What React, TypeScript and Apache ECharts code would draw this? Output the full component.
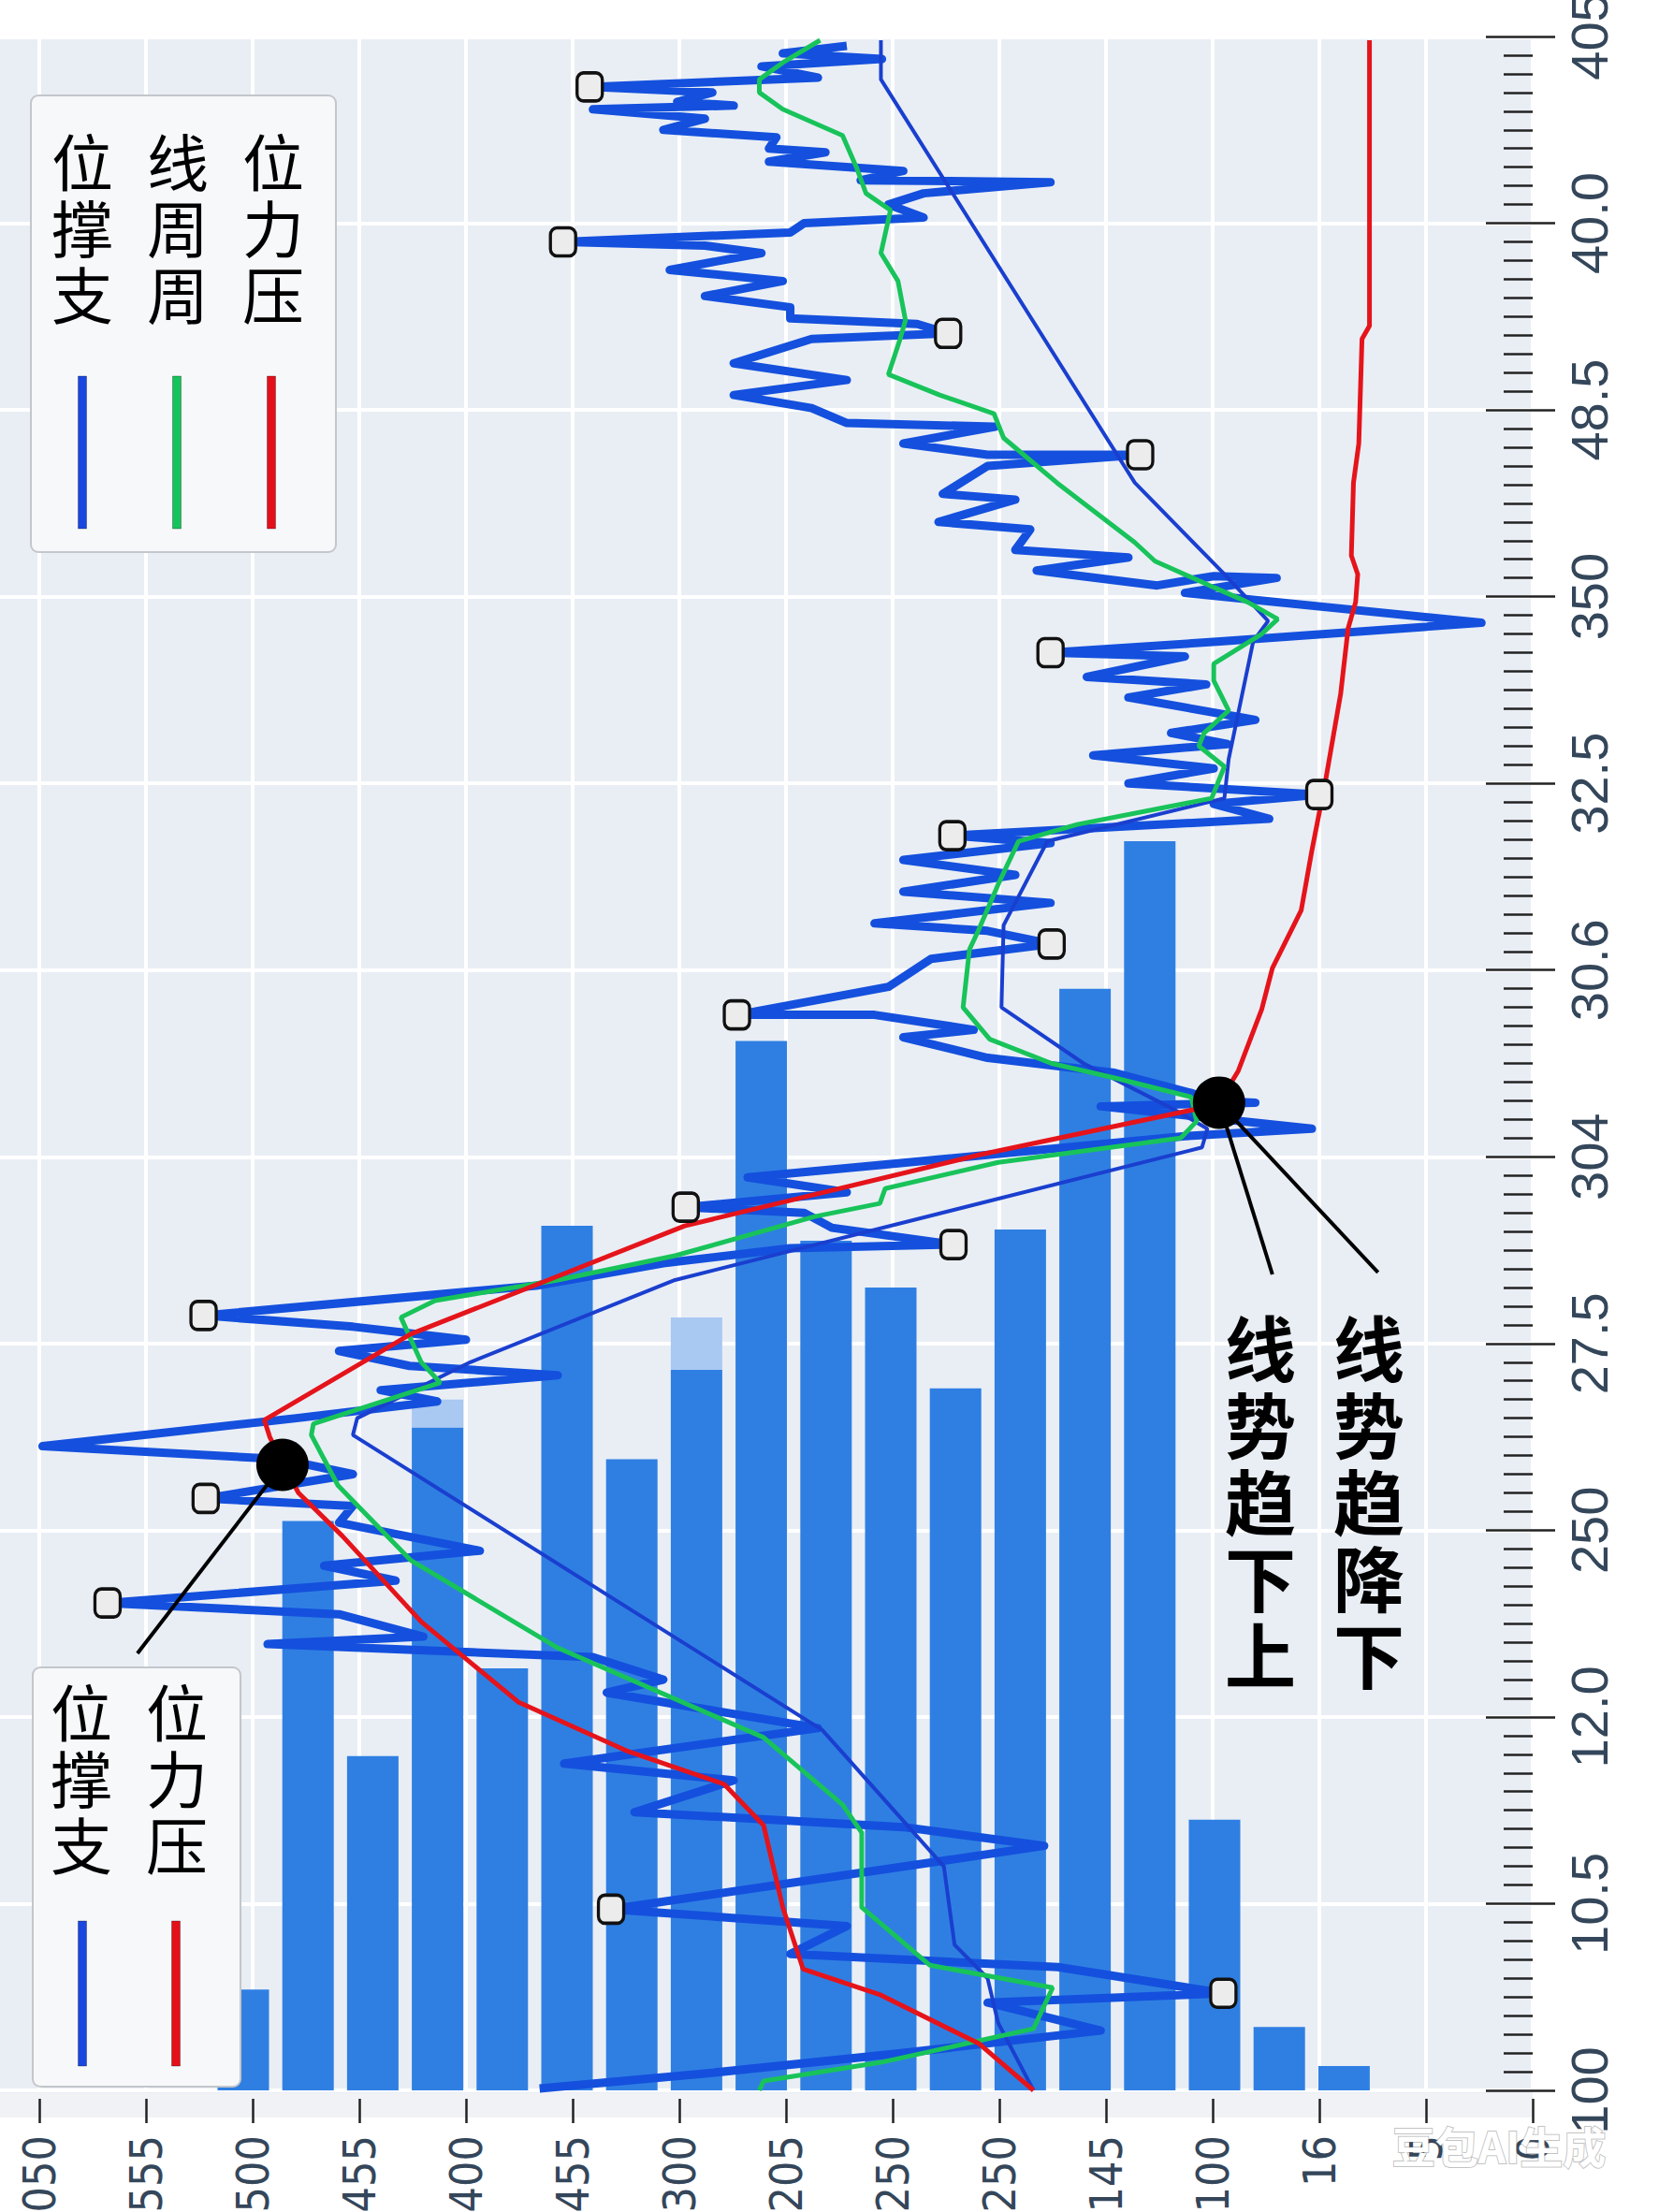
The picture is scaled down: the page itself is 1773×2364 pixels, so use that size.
import React, { useEffect, useRef } from "react";
import * as echarts from "echarts";

// ---- axis tick labels ----
const xTickLabels = ["050", "555", "500", "455", "400", "455", "300", "205", "250", "250", "145", "100", "16", "5", "0"];
const yTickLabels = ["100", "10.5", "12.0", "250", "27.5", "304", "30.6", "32.5", "350", "48.5", "40.0", "405"];

// ---- volume-like bars ----
const barCategories = ["b1", "b2", "b3", "b4", "b5", "b6", "b7", "b8", "b9", "b10", "b11", "b12", "b13", "b14", "b15", "b16", "b17", "b18"];
const barValues = [0.54, 3.05, 1.79, 3.55, 2.26, 4.63, 3.38, 3.86, 5.62, 4.55, 4.3, 3.76, 4.61, 5.9, 6.69, 1.45, 0.34, 0.13];
const barHighlights = [0, 0, 0, 0.15, 0, 0, 0, 0.28, 0, 0, 0, 0, 0, 0, 0, 0, 0, 0];

// ---- price (thick blue jagged line) ----
const priceLine = [
  [7.57, 10.95], [6.97, 10.91], [7.9, 10.88], [6.77, 10.84], [7.3, 10.78], [5.16, 10.73], [6.31, 10.7], [5.98, 10.65],
  [6.51, 10.63], [5.19, 10.61], [6.24, 10.56], [5.85, 10.5], [6.91, 10.46], [6.84, 10.4], [7.37, 10.38], [6.84, 10.33],
  [8.1, 10.28], [7.7, 10.23], [9.48, 10.22], [8.29, 10.16], [7.96, 10.1], [8.29, 10.03], [7.17, 10.0], [7.04, 9.95],
  [4.91, 9.9], [6.24, 9.88], [6.77, 9.84], [5.91, 9.75], [6.97, 9.69], [6.24, 9.61], [7.04, 9.55], [7.04, 9.49],
  [8.23, 9.46], [8.52, 9.41], [7.24, 9.38], [6.51, 9.25], [7.57, 9.16], [6.51, 9.08], [7.24, 9.01], [7.57, 8.93],
  [8.96, 8.91], [8.1, 8.82], [8.89, 8.76], [10.32, 8.76], [8.89, 8.7], [8.47, 8.55], [9.15, 8.52], [8.43, 8.4],
  [9.29, 8.36], [9.15, 8.25], [10.21, 8.21], [9.35, 8.14], [10.48, 8.06], [11.01, 8.11], [11.6, 8.1], [10.74, 8.02],
  [13.52, 7.86], [11.07, 7.76], [9.48, 7.7], [10.74, 7.68], [9.82, 7.57], [10.94, 7.53], [10.21, 7.46], [11.4, 7.34],
  [10.61, 7.27], [11.14, 7.21], [9.88, 7.15], [11.01, 7.08], [10.21, 7.0], [12.0, 6.94], [11.01, 6.89], [11.53, 6.81],
  [8.56, 6.72], [9.48, 6.68], [8.1, 6.59], [9.15, 6.51], [8.1, 6.42], [9.48, 6.36], [7.83, 6.25], [8.89, 6.21],
  [9.49, 6.14], [8.36, 6.06], [7.96, 5.91], [6.54, 5.76], [7.83, 5.76], [8.76, 5.68], [8.1, 5.64], [8.89, 5.53],
  [10.08, 5.45], [10.81, 5.34], [11.01, 5.3], [11.4, 5.29], [9.95, 5.27], [11.93, 5.15], [10.74, 5.11], [7.96, 4.96],
  [6.64, 4.89], [7.57, 4.81], [6.06, 4.73], [7.17, 4.7], [7.43, 4.62], [8.57, 4.53], [7.04, 4.51], [5.85, 4.43],
  [4.66, 4.31], [1.54, 4.15], [2.94, 4.09], [4.0, 4.02], [2.81, 3.96], [3.47, 3.88], [4.86, 3.83], [3.2, 3.75],
  [3.73, 3.69], [2.41, 3.6], [0.03, 3.45], [2.28, 3.38], [2.94, 3.3], [1.56, 3.17], [2.94, 3.13], [2.81, 3.04],
  [4.13, 2.89], [2.67, 2.81], [3.34, 2.73], [0.64, 2.61], [2.81, 2.55], [3.6, 2.43], [2.14, 2.39], [5.19, 2.32],
  [5.85, 2.2], [5.32, 2.13], [7.3, 1.94], [4.92, 1.75], [6.51, 1.66], [5.58, 1.49], [8.1, 1.41], [9.42, 1.31],
  [8.36, 1.22], [5.36, 0.97], [7.57, 0.88], [7.04, 0.73], [9.55, 0.66], [11.1, 0.52], [8.89, 0.47], [9.95, 0.32],
  [8.1, 0.2], [6.24, 0.09], [4.69, 0.01],
];

// ---- support (thin blue) ----
const supportLine = [
  [7.89, 10.98], [7.89, 10.77], [10.27, 8.61], [11.11, 8.12], [11.52, 7.87], [11.38, 7.76], [11.15, 7.13], [11.11, 6.92],
  [9.45, 6.69], [9.04, 6.24], [9.02, 5.8], [9.79, 5.5], [10.65, 5.25], [10.95, 5.15], [10.9, 5.05], [5.96, 4.34],
  [4.04, 3.9], [2.98, 3.6], [2.94, 3.51], [7.34, 1.93], [8.48, 1.2], [8.58, 0.78], [8.89, 0.6], [8.99, 0.36], [9.32, 0.0],
];

// ---- weekly line (green) ----
const weeklyLine = [
  [7.32, 10.98], [6.97, 10.86], [6.75, 10.77], [6.75, 10.7], [6.97, 10.61], [7.53, 10.47], [7.66, 10.3], [7.75, 10.16],
  [7.98, 10.07], [7.89, 9.84], [8.05, 9.69], [8.12, 9.48], [8.07, 9.38], [7.96, 9.19], [8.44, 9.08], [8.95, 8.98],
  [9.04, 8.85], [9.54, 8.61], [10.27, 8.29], [10.46, 8.19], [11.01, 8.05], [11.33, 7.97], [11.61, 7.88], [11.46, 7.8],
  [11.01, 7.64], [11.01, 7.55], [11.15, 7.39], [10.92, 7.27], [10.87, 7.2], [11.11, 7.09], [10.99, 6.92], [9.73, 6.78],
  [9.18, 6.69], [8.99, 6.46], [8.81, 6.22], [8.72, 6.11], [8.66, 5.8], [8.91, 5.63], [9.49, 5.5], [10.1, 5.42],
  [10.8, 5.32], [10.85, 5.19], [10.7, 5.1], [8.99, 4.97], [7.93, 4.83], [7.88, 4.75], [7.27, 4.68], [5.96, 4.47],
  [4.86, 4.34], [3.71, 4.23], [3.39, 4.14], [3.58, 3.9], [3.76, 3.79], [2.57, 3.57], [2.55, 3.51], [2.8, 3.24],
  [3.48, 2.84], [4.86, 2.37], [6.79, 1.89], [7.53, 1.53], [7.71, 1.38], [7.71, 0.98], [8.35, 0.67], [9.5, 0.55],
  [9.32, 0.33], [7.89, 0.15], [6.79, 0.05], [6.75, 0.0],
];

// ---- resistance (red) ----
const resistanceLine = [
  [12.47, 10.98], [12.47, 9.45], [12.4, 9.38], [12.37, 8.82], [12.32, 8.61], [12.3, 8.22], [12.36, 8.12], [12.34, 7.97],
  [12.27, 7.83], [12.2, 7.48], [12.06, 7.02], [11.93, 6.64], [11.83, 6.32], [11.56, 6.01], [11.46, 5.79], [11.24, 5.46],
  [11.05, 5.28], [8.81, 5.01], [6.05, 4.63], [4.77, 4.34], [3.48, 4.05], [2.11, 3.59], [2.16, 3.5], [2.29, 3.35],
  [2.43, 3.2], [2.84, 2.97], [3.58, 2.51], [4.49, 2.08], [5.5, 1.82], [6.42, 1.64], [6.79, 1.42], [6.97, 0.98],
  [7.16, 0.65], [7.89, 0.51], [8.81, 0.25], [9.32, 0.0],
];

// ---- markers ----
const keyPoints = [
  [5.16, 10.73], [4.91, 9.9], [8.52, 9.41], [10.32, 8.76], [9.48, 7.7], [12.0, 6.94], [8.56, 6.72], [9.49, 6.14],
  [6.54, 5.76], [6.06, 4.73], [8.57, 4.53], [1.54, 4.15], [1.56, 3.17], [0.64, 2.61], [5.36, 0.97], [11.1, 0.52],
];
const turningPoints = [[2.28, 3.35], [11.06, 5.29]];
const leaderLines = [
  [[2.28, 3.35], [0.92, 2.34]],
  [[11.06, 5.29], [11.56, 4.37]],
  [[11.06, 5.29], [12.55, 4.38]],
];

// ---- texts ----
const legendTopLabels = ["位撑支", "线周周", "位力压"];
const legendTopColors = ["#1a47e0", "#14c45a", "#e3101a"];
const legendBottomLabels = ["位撑支", "位力压"];
const legendBottomColors = ["#1a47e0", "#e3101a"];
const annotationLabels = ["线势趋下上", "线势趋降下"];
const watermark = "豆包AI生成";

const CJK = '"Noto Sans CJK SC", "Noto Sans", sans-serif';

// one text element per character, stacked vertically
const vText = (label: string, x: number, y: number, size: number, pitch: number, weight: string) =>
  label.split("").map((ch, i) => ({
    type: "text",
    z: 100,
    x,
    y: y + i * pitch,
    style: {
      text: ch,
      fontSize: size,
      fontFamily: CJK,
      fontWeight: weight,
      fill: "#000",
      align: "center",
      verticalAlign: "top",
    },
  }));

const swatch = (cx: number, y: number, h: number, color: string) => ({
  type: "rect",
  z: 100,
  shape: { x: cx - 4.5, y, width: 9, height: h },
  style: { fill: color, stroke: "rgba(0,0,0,0.3)", lineWidth: 1 },
});

export default function App() {
  const ref = useRef<HTMLDivElement>(null);

  useEffect(() => {
    document.body.style.margin = "0";
    const chart = echarts.init(ref.current!, null, { renderer: "svg" });

    const gridTop = 39;
    const gridBottom = 130;
    const gridBase = { top: gridTop, bottom: gridBottom, containLabel: false, outerBoundsMode: "none" };

    const option: any = {
      animation: false,
      backgroundColor: "transparent",
      grid: [
        { ...gridBase, left: 42, right: 135 },
        { ...gridBase, left: 225.4, right: 302 },
        { ...gridBase, left: 0, width: 42 },
        { ...gridBase, left: 42, right: 135 },
      ],
      xAxis: [
        {
          type: "value",
          gridIndex: 0,
          min: 0,
          max: 14,
          interval: 1,
          offset: 9,
          axisLine: { show: false, onZero: false },
          axisTick: { show: true, length: 26, lineStyle: { color: "#222", width: 2.5 } },
          axisLabel: {
            rotate: 90,
            margin: 39,
            fontSize: 48,
            fontFamily: '"DejaVu Sans Condensed", "DejaVu Sans", sans-serif',
            color: "#34465a",
            formatter: (v: number) => xTickLabels[Math.round(v)] ?? "",
          },
          splitLine: { show: true, lineStyle: { color: "#ffffff", width: 4 } },
        },
        { type: "category", gridIndex: 1, data: barCategories, show: false },
        { type: "value", gridIndex: 2, min: 0, max: 1, show: false },
        { type: "value", gridIndex: 3, min: 0, max: 1, show: false },
      ],
      yAxis: [
        {
          type: "value",
          gridIndex: 0,
          position: "right",
          min: 0,
          max: 11,
          interval: 1,
          axisLine: { show: false, onZero: false },
          axisTick: { show: true, inside: true, length: 50, lineStyle: { color: "#222", width: 2.5 } },
          minorTick: { show: true, splitNumber: 10, length: 31, lineStyle: { color: "#222", width: 2.5 } },
          axisLabel: {
            rotate: 90,
            margin: 32,
            fontSize: 56,
            fontFamily: "Liberation Sans",
            color: "#34465a",
            formatter: (v: number) => yTickLabels[Math.round(v)] ?? "",
          },
          splitLine: { show: true, lineStyle: { color: "#ffffff", width: 4 } },
        },
        { type: "value", gridIndex: 1, min: 0, max: 11, show: false },
        {
          type: "value",
          gridIndex: 2,
          min: 0,
          max: 11,
          interval: 1,
          axisLine: { show: false, onZero: false },
          axisTick: { show: false },
          axisLabel: { show: false },
          splitLine: { show: true, lineStyle: { color: "#ffffff", width: 4 } },
        },
        {
          type: "value",
          gridIndex: 3,
          position: "right",
          min: 0,
          max: 11,
          interval: 1,
          axisLine: { show: false, onZero: false },
          axisTick: { show: true, inside: false, length: 24, lineStyle: { color: "#222", width: 2.5 } },
          axisLabel: { show: false },
          splitLine: { show: false },
        },
      ],
      series: [
        {
          type: "bar",
          xAxisIndex: 1,
          yAxisIndex: 1,
          stack: "vol",
          data: barValues,
          barWidth: 55,
          itemStyle: { color: "#2f7fe3" },
          z: 1,
          silent: true,
        },
        {
          type: "bar",
          xAxisIndex: 1,
          yAxisIndex: 1,
          stack: "vol",
          data: barHighlights,
          barWidth: 55,
          itemStyle: { color: "#a9c8f2" },
          z: 1,
          silent: true,
        },
        {
          type: "line",
          xAxisIndex: 0,
          yAxisIndex: 0,
          data: priceLine,
          symbol: "none",
          lineStyle: { color: "#1450dd", width: 9, join: "round" },
          z: 3,
        },
        {
          type: "line",
          xAxisIndex: 0,
          yAxisIndex: 0,
          data: supportLine,
          symbol: "none",
          lineStyle: { color: "#1a3fcf", width: 4 },
          z: 4,
        },
        {
          type: "line",
          xAxisIndex: 0,
          yAxisIndex: 0,
          data: weeklyLine,
          symbol: "none",
          lineStyle: { color: "#18c35a", width: 5 },
          z: 5,
        },
        {
          type: "line",
          xAxisIndex: 0,
          yAxisIndex: 0,
          data: resistanceLine,
          symbol: "none",
          lineStyle: { color: "#e5141b", width: 5 },
          z: 6,
        },
        ...leaderLines.map((seg) => ({
          type: "line",
          xAxisIndex: 0,
          yAxisIndex: 0,
          data: seg,
          symbol: "none",
          lineStyle: { color: "#000", width: 4 },
          z: 7,
        })),
        {
          type: "scatter",
          xAxisIndex: 0,
          yAxisIndex: 0,
          data: keyPoints,
          symbol: "roundRect",
          symbolSize: [27, 30],
          itemStyle: { color: "#ececec", borderColor: "#111", borderWidth: 3.5, opacity: 1 },
          z: 8,
        },
        {
          type: "scatter",
          xAxisIndex: 0,
          yAxisIndex: 0,
          data: turningPoints,
          symbol: "circle",
          symbolSize: 56,
          itemStyle: { color: "#000", opacity: 1 },
          z: 9,
        },
      ],
      graphic: [
        {
          type: "rect",
          z: 100,
          shape: { x: 33, y: 102, width: 326, height: 488, r: 8 },
          style: { fill: "#f7f8fa", stroke: "#c3c6cb", lineWidth: 2 },
        },
        ...legendTopLabels.flatMap((l, i) => vText(l, 88 + i * 102, 137, 66, 71, "normal")),
        ...legendTopColors.map((c, i) => swatch(88 + i * 101, 402, 163, c)),
        {
          type: "rect",
          z: 100,
          shape: { x: 35, y: 1782, width: 222, height: 448, r: 8 },
          style: { fill: "#f7f8fa", stroke: "#c3c6cb", lineWidth: 2 },
        },
        ...legendBottomLabels.flatMap((l, i) => vText(l, 87 + i * 102, 1794, 66, 71, "normal")),
        ...legendBottomColors.map((c, i) => swatch(88 + i * 100, 2053, 155, c)),
        ...annotationLabels.flatMap((l, i) => vText(l, 1347 + i * 116, 1400, 76, 82, "bold")),
        {
          type: "text",
          z: 110,
          x: 1602,
          y: 2292,
          style: {
            text: watermark,
            fontSize: 46,
            fontFamily: CJK,
            fontWeight: "bold",
            fill: "#ffffff",
            stroke: "rgba(120,120,120,0.45)",
            lineWidth: 2,
            align: "center",
            verticalAlign: "middle",
            shadowBlur: 12,
            shadowColor: "rgba(0,0,0,0.4)",
          },
        },
      ],
    };

    chart.setOption(option);
    return () => chart.dispose();
  }, []);

  return (
    <div style={{ position: "relative", width: 1773, height: 2364, background: "#ffffff", overflow: "hidden" }}>
      <div style={{ position: "absolute", left: 0, top: 42, width: 1638, height: 2195, background: "#e9eef5" }} />
      <div style={{ position: "absolute", left: 0, top: 2237, width: 1638, height: 26, background: "#f0f2f5" }} />
      <div ref={ref} style={{ position: "absolute", left: 0, top: 0, width: 1773, height: 2364 }} />
    </div>
  );
}
